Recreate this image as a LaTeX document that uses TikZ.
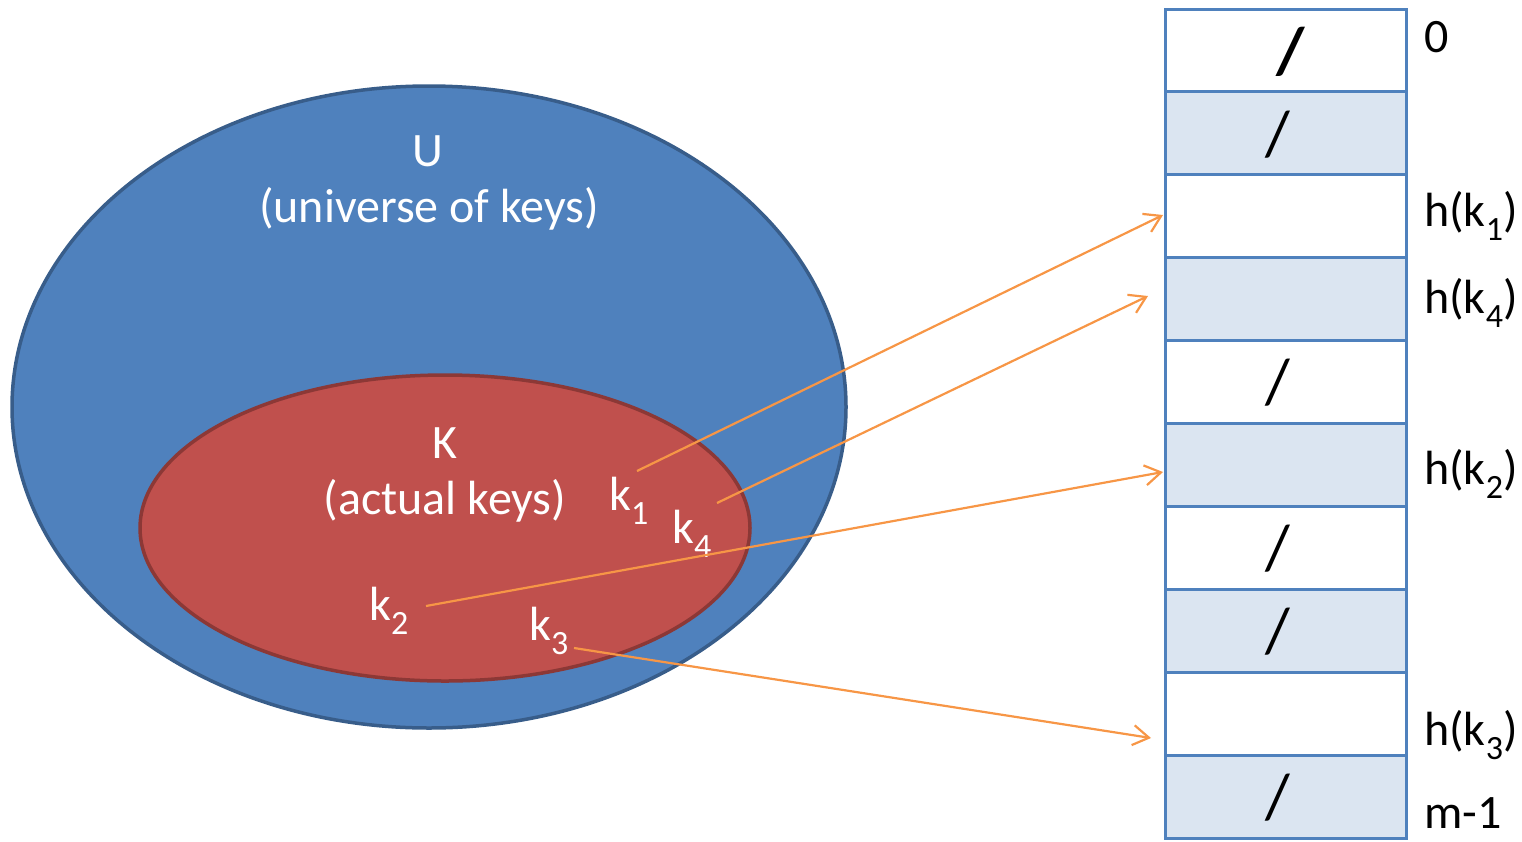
\documentclass[tikz,border=0pt]{standalone}
\usepackage{fontspec}
\setmainfont{Carlito}
\usetikzlibrary{arrows.meta}
\definecolor{ublue}{HTML}{4F81BD}
\definecolor{ublueD}{HTML}{385D8A}
\definecolor{kred}{HTML}{C0504D}
\definecolor{kredD}{HTML}{8C3836}
\definecolor{arr}{HTML}{F79646}
\definecolor{shade}{HTML}{DBE5F1}
\newcommand{\ksub}[1]{\raisebox{-0.3em}{\fontsize{34}{34}\selectfont #1}}
\begin{document}
\begin{tikzpicture}[x=1pt,y=-1pt,
  wlbl/.style={font=\fontsize{48}{54}\selectfont, text=white, inner sep=0pt, anchor=base},
  klbl/.style={font=\fontsize{48}{54}\selectfont, text=white, inner sep=0pt, anchor=base west},
  rlbl/.style={font=\fontsize{48}{54}\selectfont, text=black, inner sep=0pt, anchor=base west},
  cell/.style={draw=ublue, line width=3pt, minimum width=241pt, minimum height=82.9pt, inner sep=0pt},
  shaded/.style={cell, fill=shade},
  plain/.style={cell, fill=white},
  slash/.style={font=\fontsize{64}{70}\selectfont, inner sep=0pt},
  arrowline/.style={draw=arr, line width=2.2pt, -{Straight Barb[length=16pt,width=20pt,line width=2.2pt]}}
]
\useasboundingbox (0,0) rectangle (1522,841);
% ellipses
\draw[fill=ublue, draw=ublueD, line width=3.5pt] (429,407) ellipse [x radius=417, y radius=321];
\draw[fill=kred, draw=kredD, line width=3.5pt] (445,528) ellipse [x radius=305, y radius=153];
% ellipse labels
\node[wlbl] (U) at (428,166) {U};
\node[wlbl] (Ut) at (429,222) {(universe of keys)};
\node[wlbl] (K) at (445,458) {K};
\node[wlbl] (Kt) at (445,514) {(actual keys)};
% keys
\node[klbl] (k1) at (609,510) {k\ksub{1}};
\node[klbl] (k4) at (672,543) {k\ksub{4}};
\node[klbl] (k2) at (369,620) {k\ksub{2}};
\node[klbl] (k3) at (529,640) {k\ksub{3}};
% table
\foreach \i in {0,...,9}{
  \pgfmathtruncatemacro{\odd}{mod(\i,2)}
  \ifnum\odd=1
    \node[shaded] (r\i) at (1285.5,{9+82.9*\i+41.45}) {};
  \else
    \node[plain] (r\i) at (1285.5,{9+82.9*\i+41.45}) {};
  \fi
}
% slashes
\node[slash, font=\fontsize{66}{72}\selectfont\bfseries] (sl0) at (1291,52) {/};
\foreach \i in {1,4,6,7,9}{
  \node[slash] (sl\i) at ([xshift=-8pt,yshift=-1pt]r\i.center) {/};
}
% right labels
\node[rlbl] (l0) at (1424,52) {0};
\node[rlbl] (l2) at (1424,226) {h(k\ksub{1})};
\node[rlbl] (l3) at (1424,313) {h(k\ksub{4})};
\node[rlbl] (l5) at (1424,484) {h(k\ksub{2})};
\node[rlbl] (l8) at (1424,745) {h(k\ksub{3})};
\node[rlbl] (l9) at (1424,828) {m-1};
% arrow endpoints
\coordinate (s1) at (637,471);
\coordinate (s4) at (717,503);
\coordinate (s2) at (426,606);
\coordinate (s3) at (574,648);
\coordinate (t1) at (1163,215);
\coordinate (t4) at (1148,296);
\coordinate (t2) at (1163,472);
\coordinate (t3) at (1151,738);
\draw[arrowline] (s1) -- (t1);
\draw[arrowline] (s4) -- (t4);
\draw[arrowline] (s2) -- (t2);
\draw[arrowline] (s3) -- (t3);
\end{tikzpicture}
\end{document}
